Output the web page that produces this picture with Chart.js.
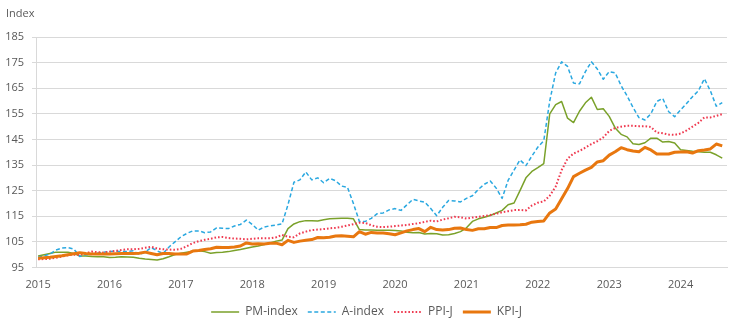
<!DOCTYPE html>
<html>
<head>
<meta charset="utf-8">
<script src="https://cdn.jsdelivr.net/npm/chart.js@4"></script>
<style>
  html, body { margin: 0; padding: 0; background: #fff; }
</style>
</head>
<body>
<canvas id="chart" width="739" height="328"></canvas>
<script>
// monthly values, Jan 2015 - Aug 2024
const startYear = 2015;
const yearTicks = [2015, 2016, 2017, 2018, 2019, 2020, 2021, 2022, 2023, 2024];

const pmIndex = [
  99.5, 100, 100.5, 101, 101, 101, 100.5, 99.5, 99.5, 99.3, 99.2, 99.2,
  98.9, 99, 99.2, 99.1, 99, 98.6, 98.3, 98.1, 97.9, 98.4, 99.2, 100.1,
  100.6, 101, 101.3, 101.5, 101.2, 100.6, 100.9, 101, 101.2, 101.6, 102, 102.5,
  103, 103.4, 104, 104.6, 105.3, 105.7, 110.2, 112, 112.9, 113.3, 113.3, 113.2,
  113.6, 114, 114.1, 114.2, 114.2, 114, 109.8, 109.6, 109.6, 109.5, 109.5, 109.5,
  109.4, 109.3, 108.8, 108.6, 108.7, 108.1, 108.3, 108.2, 107.7, 107.8, 108.3, 109,
  110.5, 113, 114, 114.6, 115.3, 116.3, 117.3, 119.5, 120.2, 125, 130, 132.5,
  134, 135.6, 155, 158.6, 159.8, 153.3, 151.6, 156, 159.3, 161.5, 156.7, 157,
  154, 149.5, 147, 146, 143.3, 143, 143.7, 145.5, 145.5, 144, 144.2, 143.6,
  141, 140.7, 140.4, 140.2, 140, 140, 139, 137.7
];

const aIndex = [
  99, 99.5, 100.3, 101.8, 102.6, 102.8, 102.2, 99.3, 100, 100.3, 100.6, 101,
  101.2, 101.4, 101.2, 101.3, 101.5, 100, 101, 102.8, 101.5, 100.5, 103, 105,
  107, 108.3, 109.3, 109.3, 108.6, 108.9, 110.5, 110.3, 110.2, 111.2, 111.8, 113.5,
  111.8, 109.6, 110.8, 111.3, 111.6, 112, 119.5, 128.3, 129.2, 132.3, 129.2, 130,
  128.1, 129.8, 128.9, 126.8, 126.3, 120, 113, 113, 114.2, 116, 116.3, 117.5,
  118, 117.3, 119.5, 121.6, 121, 120.5, 118, 115.2, 118.5, 121.2, 121, 120.6,
  122, 123, 125.5, 127.5, 128.8, 126, 122, 129, 133, 137, 134.8, 138.5,
  142, 144.5, 160, 171, 175.3, 173.5, 167, 166.7, 171.5, 175.3, 172.5, 168.5,
  171.5, 171, 166, 162, 157.5, 153.5, 152.6, 155, 159.8, 161, 155.8, 153.9,
  156.5, 159, 161.7, 164, 168.7, 164, 158, 159.4
];

const ppiJ = [
  98.2, 98.3, 98.4, 98.8, 99.3, 99.8, 100, 100, 100.5, 101.2, 101, 100.8,
  101.2, 101.5, 101.8, 102.1, 102.1, 102.3, 102.7, 103.1, 102.4, 102.1, 102, 101.9,
  102.3, 103.3, 104.5, 105.3, 105.8, 106.2, 106.8, 106.9, 106.5, 106.3, 106.2, 106,
  106.2, 106.4, 106.4, 106.4, 106.8, 107.7, 107, 106.8, 108.3, 109, 109.6, 109.8,
  110, 110.3, 110.5, 110.9, 111.4, 111.9, 112.5, 112.4, 111.5, 110.9, 110.8, 110.9,
  111.2, 111.4, 111.6, 112, 112.3, 112.8, 113.3, 113, 113.7, 114.2, 114.8, 114.6,
  114.1, 114.5, 114.8, 115.1, 115.5, 116, 116.6, 117, 117.4, 117.5, 117.3, 119.2,
  120.3, 120.8, 123, 126.6, 133, 137.5, 139.5, 140.5, 141.8, 143.2, 144.3, 145.8,
  148.3, 149.5, 150, 150.3, 150.3, 150.2, 150.2, 149.9, 147.7, 147.4, 146.9, 146.8,
  147.3, 148.5, 150, 151.5, 153.6, 153.6, 154.2, 154.9
];

const kpiJ = [
  98.6, 98.8, 99, 99.3, 99.6, 100, 100.4, 100.8, 100.5, 100.3, 100.3, 100.3,
  100.3, 100.4, 100.5, 100.5, 100.5, 100.6, 101, 100.5, 100, 100.5, 100.5, 100.3,
  100.3, 100.3, 101.4, 101.6, 102, 102.3, 102.9, 102.8, 102.8, 103, 103.4, 104.6,
  104.2, 104.3, 104.2, 104.5, 104.5, 103.9, 105.6, 104.8, 105.3, 105.6, 105.9, 106.7,
  106.6, 106.8, 107.3, 107.4, 107.2, 107, 109, 108, 108.7, 108.5, 108.5, 108.2,
  107.8, 108.5, 109.3, 109.8, 110.2, 109, 110.7, 109.8, 109.6, 109.8, 110.3, 110.4,
  109.8, 109.5, 110.1, 110.1, 110.6, 110.6, 111.4, 111.6, 111.6, 111.7, 111.9, 112.7,
  113, 113.2, 116.3, 117.8, 121.8, 125.8, 130.5, 131.8, 133, 134.1, 136.2, 136.7,
  138.9, 140.2, 141.8, 141, 140.5, 140.2, 141.9, 140.9, 139.3, 139.3, 139.3, 140,
  140.1, 140.2, 139.7, 140.6, 140.9, 141.3, 143.2, 142.5
];

const textColor = '#595959';
const gridColor = '#d9d9d9';
Chart.defaults.font.family = "'Open Sans', sans-serif";

// x value = fractional year of each month
function toPoints(values) {
  return values.map((v, i) => ({ x: startYear + i / 12, y: v }));
}

const ctx = document.getElementById('chart').getContext('2d');
new Chart(ctx, {
  type: 'line',
  data: {
    datasets: [
      { label: 'PM-index', data: toPoints(pmIndex), borderColor: '#7aa12a', borderWidth: 1.5, order: 3 },
      { label: 'A-index', data: toPoints(aIndex), borderColor: '#2aa8e0', borderWidth: 1.5, borderDash: [4, 2.5], order: 2 },
      { label: 'PPI-J', data: toPoints(ppiJ), borderColor: '#ef3a50', borderWidth: 2, borderDash: [1.6, 2], order: 1 },
      { label: 'KPI-J', data: toPoints(kpiJ), borderColor: '#e8770f', borderWidth: 3, order: 0 }
    ]
  },
  options: {
    responsive: false,
    animation: false,
    layout: { padding: { left: 6, right: 12, top: 0, bottom: 0 } },
    elements: {
      point: { radius: 0, hoverRadius: 0 },
      line: { tension: 0, fill: false, borderCapStyle: 'butt', borderJoinStyle: 'round' }
    },
    plugins: {
      title: {
        display: true,
        text: 'Index',
        align: 'start',
        color: textColor,
        font: { size: 11, weight: 'normal' },
        padding: { top: 7, bottom: 16.8 }
      },
      legend: {
        position: 'bottom',
        labels: {
          usePointStyle: true,
          pointStyle: 'line',
          pointStyleWidth: 28,
          color: textColor,
          font: { size: 12 },
          padding: 10,
          sort: (a, b) => a.datasetIndex - b.datasetIndex,
          // legend samples take the dash and width of the line itself
          generateLabels: chart => {
            const items = Chart.defaults.plugins.legend.labels.generateLabels(chart);
            items.forEach(item => {
              const ds = chart.data.datasets[item.datasetIndex];
              item.lineDash = ds.borderDash || [];
              item.lineWidth = ds.borderWidth;
              item.strokeStyle = ds.borderColor;
            });
            return items;
          }
        }
      },
      tooltip: { enabled: false }
    },
    scales: {
      x: {
        type: 'linear',
        min: 2014.97,
        max: 2024.65,
        grid: { display: false, drawTicks: false },
        border: { display: true, color: gridColor },
        afterFit: s => { s.height = 28.5; },
        afterBuildTicks: s => { s.ticks = yearTicks.map(v => ({ value: v })); },
        ticks: {
          autoSkip: false,
          maxRotation: 0,
          padding: 11,
          color: textColor,
          font: { size: 11 },
          callback: v => String(v)
        }
      },
      y: {
        min: 95,
        max: 185,
        afterFit: s => { s.width = 30; },
        grid: { color: gridColor, tickLength: 4 },
        border: { color: gridColor },
        ticks: { stepSize: 10, padding: 8, color: textColor, font: { size: 11 } }
      }
    }
  }
});
</script>
</body>
</html>
